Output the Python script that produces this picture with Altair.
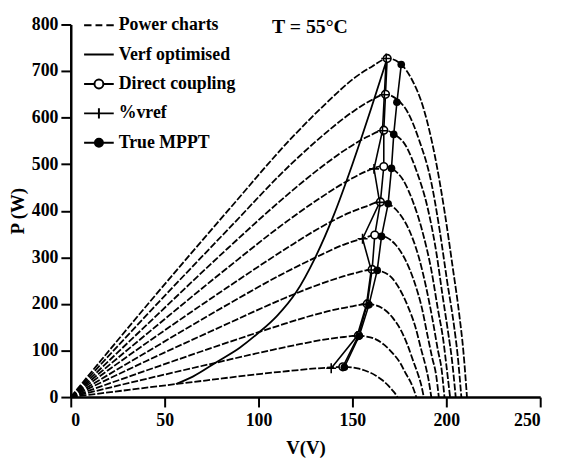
import altair as alt
import pandas as pd

# ---------------- data ----------------
SERIES = ["Power charts", "Verf optimised", "Direct coupling", "%vref", "True MPPT"]
X_TICKS = [0, 50, 100, 150, 200, 250]
Y_TICKS = [0, 100, 200, 300, 400, 500, 600, 700, 800]
TEMP_LABEL = "T = 55°C"

# Power charts (P-V curves), highest irradiance first
PC1_V = [0, 42, 84.5, 118, 135, 152, 160.5, 169, 175.5, 181.5, 188, 194, 199, 203.5, 207, 209, 211]
PC1_P = [0, 204, 404, 558, 627, 688, 710, 727, 716, 683, 618, 516, 400, 276, 174, 102, 0]
PC2_V = [0, 42, 84, 117, 134, 151, 159, 167.5, 173.5, 179.5, 185.5, 192, 196.5, 200.5, 204, 206, 208]
PC2_P = [0, 183, 361, 499, 561, 615, 635, 650, 640, 611, 552, 461, 357, 247, 156, 91, 0]
PC3_V = [0, 42, 83.5, 117, 133.5, 150.5, 158.5, 167, 172.5, 178.5, 184, 190, 194.5, 198, 201, 203, 205]
PC3_P = [0, 161, 319, 440, 494, 542, 560, 573, 564, 539, 487, 407, 315, 218, 138, 80, 0]
PC4_V = [0, 41.5, 83, 116, 133, 149.5, 157.5, 166, 171.5, 177, 182, 187.5, 192, 195.5, 198.5, 200, 202]
PC4_P = [0, 139, 276, 380, 428, 469, 485, 496, 489, 466, 422, 352, 273, 189, 119, 69, 0]
PC5_V = [0, 41, 82.5, 115.5, 132, 148.5, 157, 165, 170, 175, 180.5, 185.5, 189.5, 193, 195.5, 197.5, 199]
PC5_P = [0, 118, 233, 321, 362, 396, 409, 419, 413, 394, 356, 298, 231, 159, 101, 59, 0]
PC6_V = [0, 41, 81.5, 114, 130.5, 146.5, 155, 163, 168, 173, 178, 183, 187, 190, 192.5, 194.5, 196]
PC6_P = [0, 98, 194, 267, 300, 329, 340, 348, 343, 327, 296, 247, 191, 132, 84, 49, 0]
PC7_V = [0, 40, 80.5, 112.5, 129, 145, 153, 161, 165.5, 170.5, 175, 179.5, 183.5, 186.5, 189, 190.5, 192]
PC7_P = [0, 77, 152, 210, 237, 259, 268, 274, 270, 258, 233, 195, 151, 104, 66, 38, 0]
PC8_V = [0, 39.5, 79, 110.5, 126.5, 142, 150, 158, 162.5, 167, 171.5, 176, 179.5, 182.5, 185, 186.5, 188]
PC8_P = [0, 56, 111, 153, 173, 189, 195, 200, 197, 188, 170, 142, 110, 76, 48, 28, 0]
PC9_V = [0, 38, 76.5, 107, 122.5, 137.5, 145.5, 153, 157.5, 162.5, 167, 171.5, 175.5, 178.5, 181, 182.5, 184]
PC9_P = [0, 37, 73, 101, 114, 125, 129, 132, 130, 124, 112, 94, 73, 50, 32, 18, 0]
PC10_V = [0, 36, 72.5, 101.5, 116, 130.5, 138, 145, 149.5, 153.5, 158, 162.5, 166, 169, 171, 172.5, 174]
PC10_P = [0, 18, 36, 50, 56, 61.5, 63.5, 65, 64, 61, 55, 46, 36, 25, 16, 9, 0]

# Verf optimised
VO_V = [56, 65, 78, 90, 100, 110, 120, 130, 140, 150, 160, 168.5]
VO_P = [28, 44, 76, 106, 138, 175, 225, 298, 390, 500, 620, 727]
# Direct coupling
DC_V = [168.5, 167.6, 166.7, 166.7, 164.9, 161.9, 160.5, 157.9, 153.2, 144.9]
DC_P = [727, 650, 573, 495, 419, 348, 274, 200, 132, 65]
# %vref
VR_V = [168, 167, 166, 161.5, 164.5, 155.4, 160, 157.5, 152.5, 138.7]
VR_P = [727, 649, 572, 490, 418, 340, 273, 199, 131, 62]
# True MPPT
TM_V = [176, 173.7, 172, 170.8, 169, 165.5, 163.2, 158.8, 153.6, 145.7]
TM_P = [714, 633, 564, 491, 415, 345, 272, 198, 131, 64]

# ---------------- tables ----------------
pc_v = [PC1_V, PC2_V, PC3_V, PC4_V, PC5_V, PC6_V, PC7_V, PC8_V, PC9_V, PC10_V]
pc_p = [PC1_P, PC2_P, PC3_P, PC4_P, PC5_P, PC6_P, PC7_P, PC8_P, PC9_P, PC10_P]
pc = pd.concat([pd.DataFrame({"V": v, "P": p, "curve": f"c{i}", "series": SERIES[0]})
                for i, (v, p) in enumerate(zip(pc_v, pc_p))])
vo = pd.DataFrame({"V": VO_V, "P": VO_P, "series": SERIES[1]})
dc = pd.DataFrame({"V": DC_V, "P": DC_P, "series": SERIES[2]})
vr = pd.DataFrame({"V": VR_V, "P": VR_P, "series": SERIES[3]})
tm = pd.DataFrame({"V": TM_V, "P": TM_P, "series": SERIES[4]})
all_df = pd.concat([pc.drop(columns="curve"), vo, dc, vr, tm])

# ---------------- styling ----------------
FONT = "Liberation Serif"
PLUS_PATH = "M-1,0H1M0,-1V1"


def ring(r):
    return f"M{-r},0A{r},{r} 0 1,1 {r},0A{r},{r} 0 1,1 {-r},0Z"


LEGEND_PATHS = [
    "M-1,0H-0.5M-0.23,0H0.23M0.5,0H1",
    "M-1,0H1",
    "M-1,0H-0.3M0.3,0H1" + ring(0.3),
    "M-1,0H1M0,-0.35V0.35",
    "M-1,0H1" + ring(0.27) + ring(0.14) + ring(0.03),
]

xs = alt.Scale(domain=[0, 250], nice=False)
ys = alt.Scale(domain=[0, 800], nice=False)
X = alt.X("V:Q", scale=xs, axis=alt.Axis(values=X_TICKS, title="V(V)", titlePadding=9, labelPadding=5))
Y = alt.Y("P:Q", scale=ys, axis=alt.Axis(values=Y_TICKS, title="P (W)", titlePadding=4))

power = alt.Chart(pc).mark_line(color="black", strokeWidth=1.8, strokeDash=[7, 2],
                                interpolate="monotone").encode(x=X, y=Y, detail="curve:N", order="V:Q")
verf = alt.Chart(vo).mark_line(color="black", strokeWidth=1.8,
                               interpolate="monotone").encode(x=X, y=Y, order="V:Q")
dc_line = alt.Chart(dc).mark_line(color="black", strokeWidth=1.6).encode(x=X, y=Y, order="P:Q")
vr_line = alt.Chart(vr).mark_line(color="black", strokeWidth=1.6).encode(x=X, y=Y, order="P:Q")
tm_line = alt.Chart(tm).mark_line(color="black", strokeWidth=1.6).encode(x=X, y=Y, order="P:Q")

dc_pts = alt.Chart(dc).mark_point(shape="circle", size=60, filled=True, fill="white",
                                  stroke="black", strokeWidth=1.6, opacity=1).encode(x=X, y=Y)
vr_pts = alt.Chart(vr).mark_point(shape=PLUS_PATH, size=100, filled=False, color="black",
                                  strokeWidth=1.6, opacity=1).encode(x=X, y=Y)
tm_pts = alt.Chart(tm).mark_point(shape="circle", size=60, filled=True, color="black",
                                  opacity=1).encode(x=X, y=Y)

legend_layer = alt.Chart(all_df).mark_point(filled=False, color="black", strokeWidth=2).encode(
    x=X, y=Y,
    shape=alt.Shape("series:N", scale=alt.Scale(domain=SERIES, range=LEGEND_PATHS),
                    legend=alt.Legend(title=None, orient="none", legendX=12.5, legendY=-13.3,
                                      direction="vertical", symbolSize=900, symbolStrokeWidth=2,
                                      symbolStrokeColor="black", symbolOpacity=1,
                                      labelFont=FONT, labelFontSize=18,
                                      labelFontWeight="bold", labelColor="black", labelOffset=4,
                                      labelLimit=0, clipHeight=28, rowPadding=1.75, padding=0)),
    opacity=alt.value(0),
)

temp = alt.Chart(pd.DataFrame({"t": [TEMP_LABEL]})).mark_text(
    font=FONT, fontSize=20, fontWeight="bold", color="black", align="center", baseline="middle"
).encode(text="t:N", x=alt.value(242), y=alt.value(3))

chart = alt.layer(power, verf, dc_line, vr_line, tm_line, dc_pts, vr_pts, tm_pts,
                  legend_layer, temp).properties(
    width=475, height=377,
    autosize=alt.AutoSizeParams(type="none"),
    padding={"left": 63.5, "top": 14, "right": 18, "bottom": 62},
).configure_view(stroke=None).configure_axis(
    domainColor="black", domainWidth=2.5, tickColor="black", tickWidth=2, tickSize=10,
    labelFont=FONT, labelFontSize=18, labelFontWeight="bold", labelColor="black", labelPadding=3,
    titleFont=FONT, titleFontSize=19, titleFontWeight="bold", titleColor="black", grid=False,
)

chart.save("out.html", embed_options={"renderer": "svg", "actions": False})
